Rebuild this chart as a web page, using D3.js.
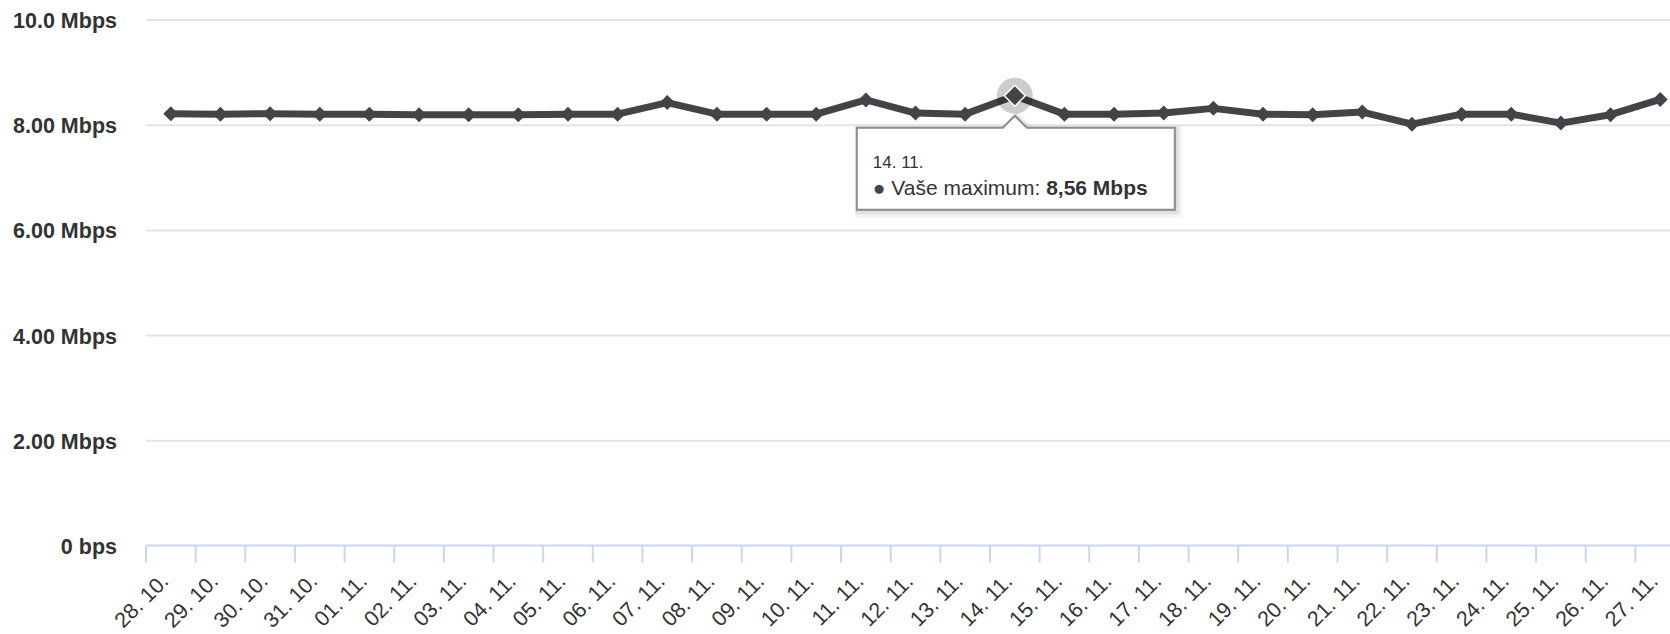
<!DOCTYPE html>
<html>
<head>
<meta charset="utf-8">
<script src="https://cdn.jsdelivr.net/npm/d3@7"></script>
<style>
  html, body { margin: 0; padding: 0; background: #fff; }
  svg { display: block; font-family: "Liberation Sans", Arial, Helvetica, sans-serif; }
</style>
</head>
<body>
<svg id="chart"></svg>
<script>
var width = 1670;
var height = 634;

// data
var dates = ["28. 10.", "29. 10.", "30. 10.", "31. 10.", "01. 11.", "02. 11.", "03. 11.", "04. 11.",
  "05. 11.", "06. 11.", "07. 11.", "08. 11.", "09. 11.", "10. 11.", "11. 11.", "12. 11.", "13. 11.",
  "14. 11.", "15. 11.", "16. 11.", "17. 11.", "18. 11.", "19. 11.", "20. 11.", "21. 11.", "22. 11.",
  "23. 11.", "24. 11.", "25. 11.", "26. 11.", "27. 11."];
var maxSpeed = [8.22, 8.21, 8.22, 8.21, 8.21, 8.20, 8.20, 8.20, 8.21, 8.21, 8.43, 8.21, 8.21, 8.21,
  8.48, 8.23, 8.21, 8.56, 8.21, 8.21, 8.23, 8.32, 8.21, 8.20, 8.25, 8.02, 8.21, 8.21, 8.04, 8.20, 8.49];
var yTicks = [0, 2, 4, 6, 8, 10];
var yTickLabels = ["0 bps", "2.00 Mbps", "4.00 Mbps", "6.00 Mbps", "8.00 Mbps", "10.0 Mbps"];
var seriesName = "Vaše maximum";

var plot_left = 146;
var plot_right = 1685;   // the chart runs past the right edge of the window
var plot_top = 20;
var plot_bottom = 546;
var lineColor = "#434348";

var svg = d3.select("#chart")
  .attr("width", width)
  .attr("height", height);

var x = d3.scaleBand()
  .domain(dates)
  .range([plot_left, plot_right]);

var y = d3.scaleLinear()
  .domain([0, 10])
  .range([plot_bottom, plot_top]);

function cx(i) { return x(dates[i]) + x.bandwidth() / 2; }

// grid lines
svg.append("g").selectAll("line").data(yTicks.slice(1)).enter()
  .append("line")
  .attr("x1", plot_left).attr("x2", width)
  .attr("y1", function(d) { return y(d); })
  .attr("y2", function(d) { return y(d); })
  .attr("stroke", "#e3e3e3")
  .attr("stroke-width", 2);

// y labels
svg.append("g").selectAll("text").data(yTicks).enter()
  .append("text")
  .attr("x", 117)
  .attr("y", function(d) { return y(d) + 8; })
  .attr("text-anchor", "end")
  .attr("font-size", "21.5px")
  .attr("font-weight", "bold")
  .attr("fill", "#333")
  .text(function(d, i) { return yTickLabels[i]; });

// x axis line and ticks
var axisY = plot_bottom - 0.5;
svg.append("line")
  .attr("x1", plot_left).attr("x2", width)
  .attr("y1", axisY).attr("y2", axisY)
  .attr("stroke", "#ccd6eb")
  .attr("stroke-width", 2);

svg.append("g").selectAll("line").data(dates).enter()
  .append("line")
  .attr("x1", function(d) { return x(d); })
  .attr("x2", function(d) { return x(d); })
  .attr("y1", axisY).attr("y2", axisY + 17)
  .attr("stroke", "#ccd6eb")
  .attr("stroke-width", 2);

// x labels, rotated
svg.append("g").selectAll("text").data(dates).enter()
  .append("text")
  .attr("transform", function(d) {
    return "translate(" + (x(d) + x.bandwidth() / 2 - 1) + "," + (axisY + 37) + ") rotate(-45)";
  })
  .attr("text-anchor", "end")
  .attr("font-size", "21.5px")
  .attr("fill", "#333")
  .text(function(d) { return d; });

// the series line
var line = d3.line()
  .x(function(d, i) { return cx(i); })
  .y(function(d) { return y(d); });

svg.append("path")
  .datum(maxSpeed)
  .attr("d", line)
  .attr("fill", "none")
  .attr("stroke", lineColor)
  .attr("stroke-width", 7)
  .attr("stroke-linejoin", "round")
  .attr("stroke-linecap", "round");

var hoverIndex = d3.maxIndex(maxSpeed);

function diamond(r) {
  return "M0," + (-r) + "L" + r + ",0L0," + r + "L" + (-r) + ",0Z";
}

// markers
svg.append("g").selectAll("path").data(d3.range(maxSpeed.length)).enter()
  .filter(function(i) { return i !== hoverIndex; })
  .append("path")
  .attr("transform", function(i) { return "translate(" + cx(i) + "," + y(maxSpeed[i]) + ")"; })
  .attr("d", diamond(7.5))
  .attr("fill", lineColor);

// hovered point: halo + bigger marker
var hx = cx(hoverIndex), hy = y(maxSpeed[hoverIndex]);
svg.append("circle")
  .attr("cx", hx).attr("cy", hy).attr("r", 18)
  .attr("fill", "#000").attr("fill-opacity", 0.2);
svg.append("path")
  .attr("transform", "translate(" + hx + "," + hy + ")")
  .attr("d", diamond(10.5))
  .attr("fill", lineColor)
  .attr("stroke", "#fff")
  .attr("stroke-width", 1.5);

// tooltip
var tipL = hx - 158, tipR = hx + 160, tipT = hy + 32, tipB = hy + 114;
var tipPath = "M" + tipL + "," + tipT +
  "L" + (hx - 12) + "," + tipT + "L" + hx + "," + (tipT - 12) + "L" + (hx + 12) + "," + tipT +
  "L" + tipR + "," + tipT + "L" + tipR + "," + tipB + "L" + tipL + "," + tipB + "Z";

var tip = svg.append("g");
[5, 3, 1].forEach(function(o, k) {
  tip.append("path")
    .attr("d", tipPath)
    .attr("transform", "translate(" + (o * 0.6) + "," + (o * 0.6) + ")")
    .attr("fill", "none")
    .attr("stroke", "#000")
    .attr("stroke-opacity", [0.04, 0.07, 0.1][k])
    .attr("stroke-width", o * 2);
});
tip.append("path")
  .attr("d", tipPath)
  .attr("fill", "#fff")
  .attr("fill-opacity", 0.92)
  .attr("stroke", "#8c8c8c")
  .attr("stroke-width", 2);

tip.append("text")
  .attr("x", tipL + 16).attr("y", tipT + 40)
  .attr("font-size", "17px")
  .attr("fill", "#333")
  .text(dates[hoverIndex]);

var t2 = tip.append("text")
  .attr("x", tipL + 16).attr("y", tipT + 67)
  .attr("font-size", "21px")
  .attr("fill", "#333");
t2.append("tspan").attr("fill", lineColor).text("\u25CF ");
t2.append("tspan").text(seriesName + ": ");
t2.append("tspan").attr("font-weight", "bold")
  .text(String(maxSpeed[hoverIndex].toFixed(2)).replace(".", ",") + " Mbps");
</script>
</body>
</html>
